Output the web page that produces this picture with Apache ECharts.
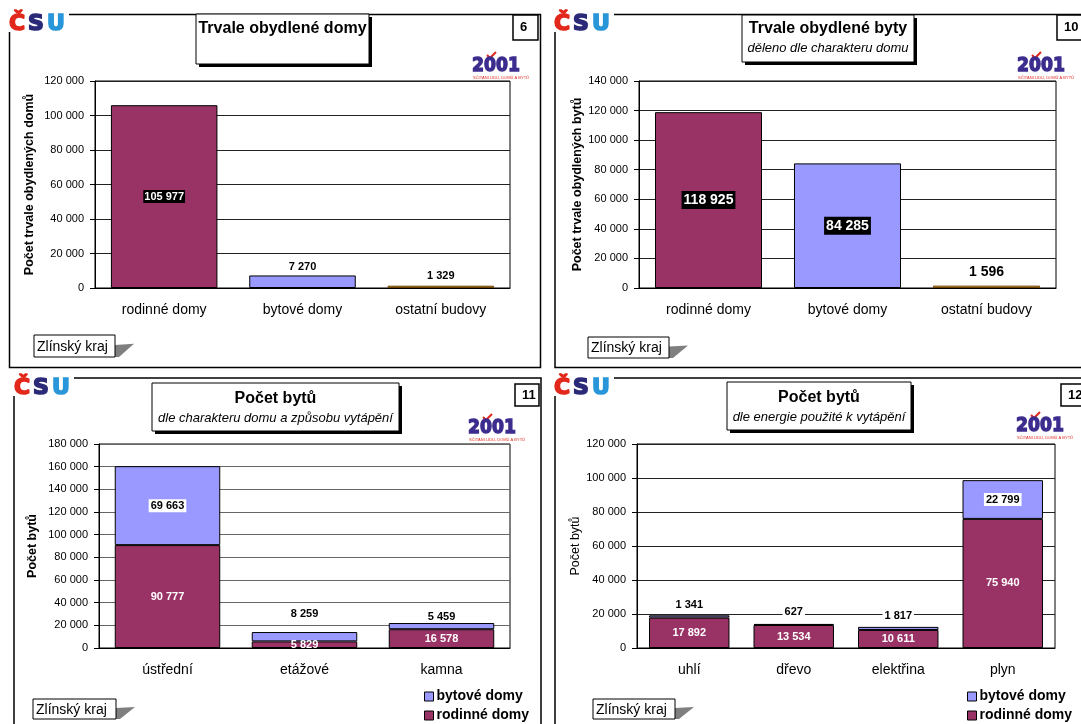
<!DOCTYPE html>
<html>
<head>
<meta charset="utf-8">
<title>Zlínský kraj – domy a byty</title>
<script src="https://cdn.jsdelivr.net/npm/echarts@6/dist/echarts.min.js"></script>
<style>
  html, body { margin: 0; padding: 0; background: #fff; }
  #chart { width: 1081px; height: 724px; }
</style>
</head>
<body>
<div id="chart"></div>
<script>
// --- data ---
const domyCategories = ['rodinné domy', 'bytové domy', 'ostatní budovy'];
const domyValues = [105977, 7270, 1329];      // graf 6
const bytyValues = [118925, 84285, 1596];     // graf 10

const vytapeniCategories = ['ústřední', 'etážové', 'kamna'];
const vytapeniRodinne = [90777, 5829, 16578]; // graf 11
const vytapeniBytove = [69663, 8259, 5459];

const energieCategories = ['uhlí', 'dřevo', 'elektřina', 'plyn'];
const energieRodinne = [17892, 13534, 10611, 75940]; // graf 12
const energieBytove = [1341, 627, 1817, 22799];

const axisMax = [120000, 140000, 180000, 120000];
const axisStep = 20000;
const legendNames = ['bytové domy', 'rodinné domy'];

// --- styles ---
const FONT = 'Liberation Sans';
const MAROON = '#993366';
const LAVENDER = '#9999ff';
const ORANGE = '#e0961f';
const kindColors = [MAROON, LAVENDER, ORANGE];
const kindBorders = ['#000', '#000', '#6b4200'];

const fmt = v => String(v).replace(/\B(?=(\d{3})+(?!\d))/g, ' ');

const lbl = extra => Object.assign({
  show: true, fontFamily: FONT, fontWeight: 'bold', fontSize: 11, color: '#000',
  formatter: p => fmt(p.value)
}, extra);

const grids = [
  { left: 95, top: 81, width: 415, height: 207 },
  { left: 639, top: 81, width: 417, height: 207 },
  { left: 99, top: 444, width: 411, height: 204 },
  { left: 637, top: 444, width: 418, height: 204 }
].map(g => Object.assign(g, { show: true, borderColor: '#000', borderWidth: 1 }));

function catAxis(i, data) {
  return {
    type: 'category', gridIndex: i, data: data,
    axisLine: { lineStyle: { color: '#000', width: 1 } },
    axisTick: { length: 5, lineStyle: { color: '#000' } },
    axisLabel: { color: '#000', fontSize: 14, margin: 15, fontFamily: FONT }
  };
}

function valAxis(i, name, bold, gap, gridColor) {
  return {
    type: 'value', gridIndex: i, min: 0, max: axisMax[i], interval: axisStep,
    name: name, nameLocation: 'middle', nameGap: gap, nameRotate: 90,
    nameTextStyle: { fontSize: 12.5, fontWeight: bold ? 'bold' : 'normal', color: '#000', fontFamily: FONT },
    axisLine: { show: true, lineStyle: { color: '#000', width: 1 } },
    axisTick: { show: true, length: 5, lineStyle: { color: '#000' } },
    axisLabel: { fontSize: 11, color: '#000', margin: 11, fontFamily: FONT, formatter: fmt },
    splitLine: { show: true, lineStyle: { color: gridColor, width: 1 } }
  };
}

const barBorder = { borderColor: '#000', borderWidth: 1 };

// graf 6
const s1 = {
  type: 'bar', xAxisIndex: 0, yAxisIndex: 0, barCategoryGap: '23%', itemStyle: barBorder,
  data: domyValues.map((v, k) => ({
    value: v,
    itemStyle: { color: kindColors[k], borderColor: kindBorders[k] },
    label: k === 0
      ? lbl({ position: 'inside', color: '#fff', backgroundColor: '#000', padding: [1, 1] })
      : lbl({ position: 'top', distance: k === 1 ? 3 : 4 })
  }))
};

// graf 10
const s2 = {
  type: 'bar', xAxisIndex: 1, yAxisIndex: 1, barCategoryGap: '23%', itemStyle: barBorder,
  data: bytyValues.map((v, k) => ({
    value: v,
    itemStyle: { color: kindColors[k], borderColor: kindBorders[k] },
    label: k < 2
      ? lbl({ position: 'inside', fontSize: 14, color: '#fff', backgroundColor: '#000', padding: [2, 2] })
      : lbl({ position: 'top', fontSize: 14, distance: 6 })
  }))
};

// graf 11
const bytoveLbl3 = [{ position: 'inside' }, { position: 'top', distance: 12 }, { position: 'top', distance: 0 }];
const s3a = {
  name: 'rodinné domy', type: 'bar', stack: 'v', xAxisIndex: 2, yAxisIndex: 2, barCategoryGap: '23%',
  itemStyle: Object.assign({ color: MAROON }, barBorder),
  label: lbl({ position: 'inside', color: '#fff' }),
  data: vytapeniRodinne
};
const s3b = {
  name: 'bytové domy', type: 'bar', stack: 'v', xAxisIndex: 2, yAxisIndex: 2, barCategoryGap: '23%',
  itemStyle: Object.assign({ color: LAVENDER }, barBorder),
  data: vytapeniBytove.map((v, k) => ({
    value: v,
    label: lbl(Object.assign({ backgroundColor: '#fff', padding: [1, 2] }, bytoveLbl3[k]))
  }))
};

// graf 12
const bytoveLbl4 = [{ position: 'top', distance: 4 }, { position: 'top', distance: 5 }, { position: 'top', distance: 4 }, { position: 'inside' }];
const s4a = {
  name: 'rodinné domy', type: 'bar', stack: 'e', xAxisIndex: 3, yAxisIndex: 3, barCategoryGap: '23%',
  itemStyle: Object.assign({ color: MAROON }, barBorder),
  label: lbl({ position: 'inside', color: '#fff' }),
  data: energieRodinne
};
const s4b = {
  name: 'bytové domy', type: 'bar', stack: 'e', xAxisIndex: 3, yAxisIndex: 3, barCategoryGap: '23%',
  itemStyle: Object.assign({ color: LAVENDER }, barBorder),
  data: energieBytove.map((v, k) => ({
    value: v,
    label: lbl(Object.assign({ backgroundColor: '#fff', padding: [1, 2] }, bytoveLbl4[k]))
  }))
};

function legendAt(left) {
  return {
    data: legendNames, orient: 'vertical', left: left, top: 689, height: 40, padding: 0, icon: 'rect',
    itemWidth: 9, itemHeight: 9, itemGap: 4, selectedMode: false,
    itemStyle: { borderColor: '#000', borderWidth: 1 },
    textStyle: { fontSize: 14, lineHeight: 15, fontWeight: 'bold', color: '#000', fontFamily: FONT, padding: [0, 0, 0, -2] }
  };
}

// --- decoration: frames, title boxes, logos ---
const shapes = [];

function frame(x, y, w, h) {
  shapes.push({ type: 'rect', z: 0, shape: { x: x, y: y, width: w, height: h },
    style: { fill: 'none', stroke: '#000', lineWidth: 1.5 } });
}

function txt(x, y, text, opts) {
  shapes.push({ type: 'text', z: 20, style: Object.assign({
    x: x, y: y, text: text, fill: '#000', fontFamily: FONT, fontSize: 12,
    align: 'left', textAlign: 'left', verticalAlign: 'middle', textVerticalAlign: 'middle'
  }, opts) });
}

function titleBox(x, y, w, h, title, sub, titleY, subY) {
  shapes.push({ type: 'rect', z: 18, shape: { x: x + 3, y: y + 3, width: w, height: h }, style: { fill: '#000' } });
  shapes.push({ type: 'rect', z: 19, shape: { x: x, y: y, width: w, height: h },
    style: { fill: '#fff', stroke: '#000', lineWidth: 1 } });
  const cx = x + w / 2;
  txt(cx, titleY, title, { fontSize: 16, fontWeight: 'bold', align: 'center', textAlign: 'center' });
  if (sub) txt(cx, subY, sub, { fontSize: 13, fontStyle: 'italic', align: 'center', textAlign: 'center' });
}

function numBox(x, y, w, h, n) {
  shapes.push({ type: 'rect', z: 19, shape: { x: x, y: y, width: w, height: h },
    style: { fill: '#fff', stroke: '#000', lineWidth: 1.5 } });
  txt(x + 7, y + h / 2, n, { fontSize: 13, fontWeight: 'bold' });
}

function krajBox(x, y, w, h) {
  shapes.push({ type: 'polygon', z: 18, shape: { points: [
    [x + w, y + h * 0.45], [x + w + 19, y + h * 0.4], [x + w + 4, y + h], [x + w, y + h]] },
    style: { fill: '#7f7f7f' } });
  shapes.push({ type: 'rect', z: 19, shape: { x: x, y: y, width: w, height: h },
    style: { fill: '#fff', stroke: '#000', lineWidth: 1 } });
  txt(x + 3, y + h / 2 + 1, 'Zlínský kraj', { fontSize: 14 });
}

function csuLogo(x, y) {
  shapes.push({ type: 'rect', z: 19, shape: { x: x - 2, y: y - 2, width: 62, height: 20 }, style: { fill: '#fff' } });
  const parts = [['Č', '#e2271b', 0], ['S', '#2b2a78', 19], ['U', '#2896d8', 38]];
  parts.forEach(p => txt(x + p[2], y + 10, p[0], {
    fontSize: 22, fontWeight: 'bold', fontFamily: 'DejaVu Sans', fill: p[1], stroke: p[1], lineWidth: 1.6 }));
}

function logo2001(x, y) {
  shapes.push({ type: 'polyline', z: 20, shape: { points: [[x + 15, y + 3], [x + 18, y + 6], [x + 24, y]] },
    style: { stroke: '#e2271b', lineWidth: 2, fill: 'none' } });
  shapes.push({ type: 'text', z: 20, x: x, y: y + 14, scaleX: 0.86,
    style: { x: 0, y: 0, text: '2001', fill: '#3b2c8e', stroke: '#3b2c8e', lineWidth: 1.4,
      fontFamily: 'DejaVu Sans', fontWeight: 'bold', fontSize: 20,
      align: 'left', textAlign: 'left', verticalAlign: 'middle', textVerticalAlign: 'middle' } });
  txt(x + 1, y + 26, 'SČÍTÁNÍ LIDU, DOMŮ A BYTŮ', { fontSize: 4, fill: '#e2271b' });
}

frame(9.5, 14.5, 531, 353);
frame(555, 14.5, 540, 353);
frame(14, 378, 527, 360);
frame(555, 378, 540, 360);

csuLogo(9, 14);
csuLogo(554, 14);
csuLogo(14, 378);
csuLogo(554, 378);

titleBox(196, 14, 173, 50, 'Trvale obydlené domy', null, 29, 0);
titleBox(742, 15, 172, 47, 'Trvale obydlené byty', 'děleno dle charakteru domu', 29, 48);
titleBox(152, 383, 247, 48, 'Počet bytů', 'dle charakteru domu a způsobu vytápění', 399, 418);
titleBox(727, 382, 184, 48, 'Počet bytů', 'dle energie použité k vytápění', 398, 417);

numBox(513, 15, 25, 25, '6');
numBox(1057, 15, 40, 25, '10');
numBox(515, 384, 24, 22, '11');
numBox(1061, 384, 40, 22, '12');

krajBox(34, 335, 81, 22);
krajBox(588, 337, 81, 21);
krajBox(33, 699, 83, 20);
krajBox(593, 699, 82, 20);

logo2001(472, 52);
logo2001(1017, 52);
logo2001(468, 414);
logo2001(1016, 412);

const chart = echarts.init(document.getElementById('chart'));
chart.setOption({
  animation: false,
  backgroundColor: '#fff',
  textStyle: { fontFamily: FONT },
  grid: grids,
  xAxis: [catAxis(0, domyCategories), catAxis(1, domyCategories), catAxis(2, vytapeniCategories), catAxis(3, energieCategories)],
  yAxis: [
    valAxis(0, 'Počet trvale obydlených domů', true, 59, '#222'),
    valAxis(1, 'Počet trvale obydlených bytů', true, 55, '#222'),
    valAxis(2, 'Počet bytů', true, 60, '#666'),
    valAxis(3, 'Počet bytů', false, 54, '#222')
  ],
  legend: [legendAt(424), legendAt(967)],
  series: [s1, s2, s3a, s3b, s4a, s4b],
  graphic: { elements: shapes }
});
</script>
</body>
</html>
